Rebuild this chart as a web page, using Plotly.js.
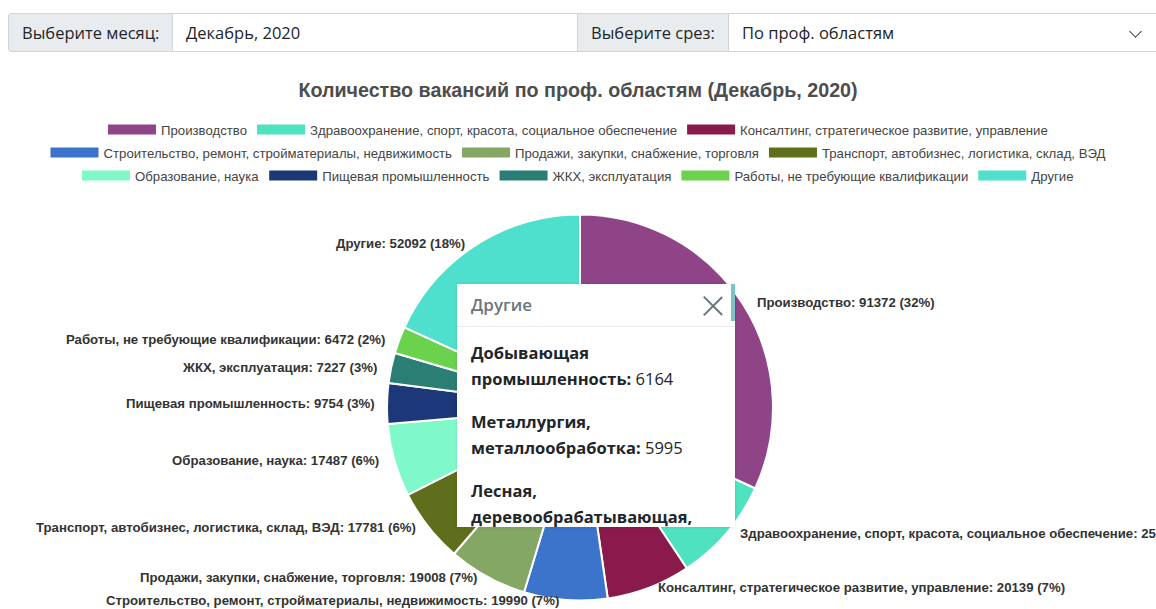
<!DOCTYPE html>
<html>
<head>
<meta charset="utf-8">
<script src="https://cdn.plot.ly/plotly-3.0.1.min.js"></script>
<style>
  html, body { margin: 0; padding: 0; background: #fff; width: 1156px; height: 609px; overflow: hidden; }
  #chart { position: absolute; left: 0; top: 0; width: 1156px; height: 609px; }
  .grp { position: absolute; top: 13px; height: 39px; display: flex; font-family: "Open Sans", "Noto Sans", sans-serif; font-size: 16.5px; color: #212529; z-index: 5; }
  .lbl { background: #e9ecef; border: 1px solid #ced4da; display: flex; align-items: center; padding: 0 13px; color: #212529; box-sizing: border-box; }
  .inp { background: #fff; border: 1px solid #ced4da; border-left: none; display: flex; align-items: center; padding: 0 13px; box-sizing: border-box; color: #212529; }
  #g1 { left: 8px; width: 570px; }
  #g1 .lbl { width: 165px; border-radius: 3px 0 0 3px; white-space: nowrap; }
  #g1 .inp { flex: 1; }
  #g2 { left: 578px; width: 590px; }
  #g2 .lbl { width: 151px; border-left: none; white-space: nowrap; }
  #g2 .inp { flex: 1; position: relative; }
  .chev { position: absolute; left: 402px; top: 13px; width: 8px; height: 8px; border-right: 1.6px solid #343a40; border-bottom: 1.6px solid #343a40; transform: rotate(45deg); }
  #popup { position: absolute; left: 457px; top: 284px; width: 278px; height: 243px; background: #fff; z-index: 6;
           box-shadow: 0 0 3px rgba(0,0,0,0.12); overflow: hidden; font-family: "Open Sans", "Noto Sans", sans-serif; }
  #popup .hdr { height: 42px; border-bottom: 1px solid #e9ecef; position: relative; }
  #popup .hdr span { position: absolute; left: 14px; top: 9px; font-size: 17px; font-weight: 600; color: #6c757d; }
  #popup .x { position: absolute; left: 246px; top: 12px; width: 20px; height: 20px; }
  #popup .x:before, #popup .x:after { content: ""; position: absolute; left: 9px; top: -3px; width: 1.6px; height: 26px; background: #6c757d; }
  #popup .x:before { transform: rotate(45deg); }
  #popup .x:after { transform: rotate(-45deg); }
  #popup .body { padding: 13px 14px 0 14px; font-size: 16.5px; line-height: 26px; color: #212529; }
  #popup .body p { margin: 0 0 17px 0; }
  #popup .body b { font-weight: 700; }
  #popup .sb { position: absolute; right: 0; top: 0; width: 4px; height: 37px; background: #7cc3c8; }
</style>
</head>
<body>
<div id="chart"></div>
<div class="grp" id="g1"><div class="lbl">Выберите месяц:</div><div class="inp" id="monthVal"></div></div>
<div class="grp" id="g2"><div class="lbl">Выберите срез:</div><div class="inp"><span id="sliceVal"></span><div class="chev"></div></div></div>
<div id="popup">
  <div class="hdr"><span id="popTitle"></span><div class="x"></div></div>
  <div class="body" id="popBody"></div>
  <div class="sb"></div>
</div>
<script>
// ---- data ----
const month = "Декабрь, 2020";
const sliceName = "По проф. областям";
const categories = [
  "Производство",
  "Здравоохранение, спорт, красота, социальное обеспечение",
  "Консалтинг, стратегическое развитие, управление",
  "Строительство, ремонт, стройматериалы, недвижимость",
  "Продажи, закупки, снабжение, торговля",
  "Транспорт, автобизнес, логистика, склад, ВЭД",
  "Образование, наука",
  "Пищевая промышленность",
  "ЖКХ, эксплуатация",
  "Работы, не требующие квалификации",
  "Другие"
];
const values = [91372, 25148, 20139, 19990, 19008, 17781, 17487, 9754, 7227, 6472, 52092];
const otherCategories = ["Добывающая промышленность", "Металлургия, металлообработка", "Лесная, деревообрабатывающая, целлюлозно-бумажная промышленность"];
const otherValues = [6164, 5995, 5200];

// ---- styles / layout positions (pixels) ----
const colors = ["#8e4487", "#4ee2c1", "#8a1a4c", "#3c73cb", "#85a764", "#5f6e1c", "#7ff9ca", "#1d3878", "#2a7e73", "#6bd24d", "#4fe0cd"];
const labelPos = [ // [x, y, anchor]
  [755, 302, "left"], [738, 533, "left"], [656, 587, "left"], [561, 600, "right"], [479, 577, "right"],
  [418, 527, "right"], [381, 460, "right"], [377, 403, "right"], [379, 367, "right"], [387, 339, "right"], [467, 243, "right"]
];
const legendRowSizes = [3, 3, 5];
const legendRowY = [130, 153, 176];
const W = 1156, H = 609;
const cx = 580, cy = 407.5, r = 193;
const FONT = "Liberation Sans, Arial, sans-serif";

document.getElementById("monthVal").textContent = month;
document.getElementById("sliceVal").textContent = sliceName;
document.getElementById("popTitle").textContent = categories[categories.length - 1];
document.getElementById("popBody").innerHTML = otherCategories.map((c, i) => "<p><b>" + c + ":</b> " + otherValues[i] + "</p>").join("");

const total = values.reduce((a, b) => a + b, 0);
const annotations = categories.map((c, i) => ({
  text: "<b>" + c + ": " + values[i] + " (" + Math.round(values[i] / total * 100) + "%)</b>",
  x: labelPos[i][0] / W, y: 1 - labelPos[i][1] / H, xref: "paper", yref: "paper",
  xanchor: labelPos[i][2], yanchor: "middle", showarrow: false,
  font: { family: FONT, size: 13.2, color: "#333333" }
}));

const pie = {
  type: "pie", labels: categories, values: values, sort: false, direction: "clockwise", rotation: 0,
  marker: { colors: colors, line: { color: "#ffffff", width: 2 } },
  textinfo: "none", hoverinfo: "skip", showlegend: false,
  domain: { x: [(cx - r) / W, (cx + r) / W], y: [1 - (cy + r) / H, 1 - (cy - r) / H] }
};

// legend entries (one per category), split into centred rows
const legendNames = ["legend", "legend2", "legend3"];
const legendTraces = [];
let idx = 0;
legendRowSizes.forEach((n, row) => {
  for (let k = 0; k < n; k++, idx++) {
    legendTraces.push({
      type: "scatter", mode: "lines", x: [null], y: [null], name: categories[idx],
      line: { color: colors[idx], width: 10 }, legend: legendNames[row], showlegend: true, hoverinfo: "skip"
    });
  }
});

const layout = {
  width: W, height: H, margin: { l: 0, r: 0, t: 0, b: 0 },
  paper_bgcolor: "#ffffff", plot_bgcolor: "rgba(0,0,0,0)",
  xaxis: { visible: false }, yaxis: { visible: false },
  title: { text: "<b>Количество вакансий по проф. областям (" + month + ")</b>", x: 0.5, xanchor: "center", y: 1 - 90 / H, yanchor: "middle",
           font: { family: FONT, size: 19.7, color: "#4d4d4d" } },
  showlegend: true,
  annotations: annotations
};
legendNames.forEach((ln, row) => {
  layout[ln] = { orientation: "h", x: 0.5, xanchor: "center", y: 1 - legendRowY[row] / H, yanchor: "middle", itemwidth: 48,
                 font: { family: FONT, size: 13.2, color: "#444444" }, bgcolor: "rgba(0,0,0,0)", traceorder: "normal" };
});

Plotly.newPlot("chart", [pie].concat(legendTraces), layout, { displayModeBar: false, staticPlot: true });
</script>
</body>
</html>
